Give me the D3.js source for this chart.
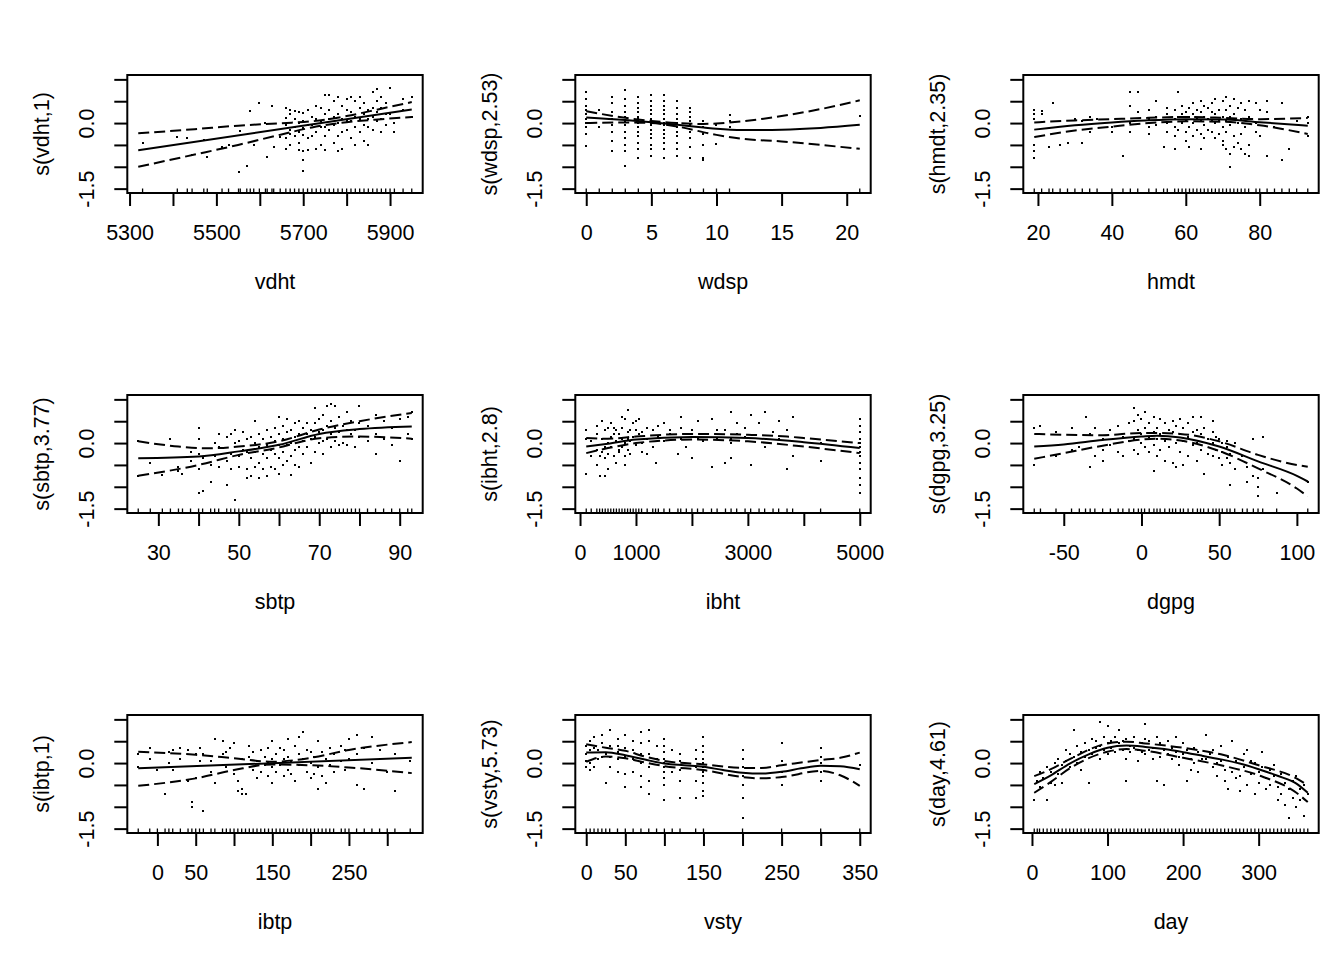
<html>
<script src='https://d3js.org/d3.v7.min.js'></script>
<style>
  body {margin: 0; background: #fff;}
  text {font-family: "Liberation Sans", Arial, sans-serif; font-size: 21.5px; fill: #000;}
</style>
<body>
<svg width=1344 height=960></svg>
<script>
// y axis shared by every panel
var yLim = [-1.5, 1.0];
var yTicks = [-1.5, -1, -0.5, 0, 0.5, 1];
var yLabels = [-1.5, 0];

// ---- vdht ----
var vdhtRange = [5320, 5950];
var vdhtTicks = [5300, 5400, 5500, 5600, 5700, 5800, 5900];
var vdhtLabels = [5300, 5500, 5700, 5900];
var vdhtFit = [[5320, -0.62], [5950, 0.31]];
var vdhtUp = [[5320, -0.235], [5450, -0.14], [5550, -0.06], [5650, -0.003], [5720, 0.04], [5800, 0.16], [5880, 0.33], [5950, 0.48]];
var vdhtLo = [[5320, -1.0], [5450, -0.72], [5550, -0.5], [5650, -0.26], [5720, -0.1], [5800, 0.02], [5880, 0.09], [5950, 0.14]];
var vdhtPts = [[5330, [-0.45]], [5410, [-0.31]], [5433, [-0.35]], [5444, [-0.73]], [5471, [-0.38]], [5479, [-0.78]], [5513, [-0.55]],
  [5528, [-0.5]], [5551, [-1.12]], [5555, [-0.19]], [5570, [-0.98]], [5578, [0.27]], [5586, [-0.5]], [5599, [0.46]],
  [5613, [0.0]], [5617, [-0.77]], [5628, [0.38]], [5632, [-0.55]], [5647, [-0.31]],
  [5660, [0.35, 0.12, -0.05, -0.35, -0.6]], [5670, [0.3, 0.2, -0.15, -0.25, -0.5]], [5680, [0.28, 0.1, -0.1, -0.3]],
  [5690, [0.25, 0.0, -0.2, -0.45, -0.62]], [5700, [0.22, 0.05, -0.12, -0.28, -0.65, -0.85, -1.1]], [5710, [0.3, -0.05, -0.35, -0.62]],
  [5720, [0.15, -0.05, -0.3]], [5730, [0.4, 0.1, -0.2, -0.6]], [5740, [0.35, 0.05, -0.1, -0.5]], [5750, [0.65, 0.2, -0.1, -0.3, -0.62]],
  [5760, [0.65, 0.3, 0.1, -0.15]], [5770, [0.5, 0.15, -0.05, -0.45]], [5780, [0.6, 0.2, 0.0, -0.3, -0.65]], [5790, [0.4, 0.1, -0.2, -0.6]],
  [5800, [0.55, 0.3, 0.05, -0.15]], [5810, [0.6, 0.25, 0.05, -0.35]], [5820, [0.5, 0.15, -0.1, -0.5]], [5830, [0.6, 0.35, 0.1, -0.2]],
  [5840, [0.45, 0.2, -0.05, -0.4]], [5850, [0.3, 0.1, -0.1, -0.5]], [5860, [0.7, 0.35, 0.15, -0.15]], [5870, [0.78, 0.5, 0.25, 0.05]],
  [5880, [0.6, 0.35, 0.1, -0.2]], [5890, [0.45, 0.2, -0.05]], [5900, [0.8, 0.2]], [5910, [0.0, -0.2]], [5930, [0.55, 0.3]], [5950, [0.6, 0.15]]];

// ---- wdsp ----
var wdspRange = [0, 21];
var wdspTicks = [0, 5, 10, 15, 20];
var wdspLabels = [0, 5, 10, 15, 20];
var wdspFit = [[0, 0.13], [3, 0.07], [5, 0.02], [7, -0.04], [9, -0.1], [10, -0.13], [12, -0.16], [15, -0.15], [18, -0.11], [21, -0.04]];
var wdspUp = [[0, 0.27], [3, 0.12], [5, 0.05], [7, 0.0], [9, -0.02], [10, -0.01], [12, 0.04], [15, 0.16], [18, 0.32], [21, 0.52]];
var wdspLo = [[0, 0.0], [3, 0.015], [5, 0.0], [7, -0.08], [10, -0.27], [12, -0.36], [15, -0.42], [18, -0.5], [21, -0.59]];
var wdspPts = [[0, [0.72, 0.55, 0.4, 0.3, 0.2, 0.1, 0.0, -0.1, -0.25, -0.52]], [1, [0.3, -0.1]],
  [2, [0.6, 0.45, 0.25, 0.1, -0.05, -0.2, -0.4, -0.65]],
  [3, [0.75, 0.55, 0.4, 0.25, 0.15, 0.05, -0.05, -0.2, -0.35, -0.5, -0.65, -0.98]],
  [4, [0.6, 0.45, 0.35, 0.25, 0.15, 0.1, 0.05, 0.0, -0.1, -0.2, -0.3, -0.45, -0.6, -0.8]],
  [5, [0.65, 0.5, 0.4, 0.3, 0.2, 0.1, 0.05, 0.0, -0.05, -0.15, -0.25, -0.35, -0.5, -0.6, -0.75]],
  [6, [0.65, 0.5, 0.4, 0.3, 0.2, 0.1, 0.0, -0.05, -0.15, -0.25, -0.35, -0.45, -0.6, -0.8]],
  [7, [0.5, 0.35, 0.2, 0.1, 0.0, -0.1, -0.2, -0.3, -0.45, -0.6, -0.75]],
  [8, [0.35, 0.25, 0.15, 0.05, -0.05, -0.2, -0.35, -0.55, -0.79]],
  [9, [0.04, -0.1, -0.25, -0.5, -0.8, -0.85]], [10, [-0.04, -0.48]], [11, [0.19, 0.05, -0.08]], [21, [0.17]]];

// ---- hmdt ----
var hmdtRange = [19, 93];
var hmdtTicks = [20, 40, 60, 80];
var hmdtLabels = [20, 40, 60, 80];
var hmdtFit = [[19, -0.15], [30, -0.05], [40, 0.015], [49, 0.06], [60, 0.09], [71, 0.08], [80, 0.02], [93, -0.06]];
var hmdtUp = [[19, 0.015], [30, 0.06], [40, 0.09], [50, 0.12], [60, 0.14], [70, 0.12], [80, 0.09], [93, 0.115]];
var hmdtLo = [[19, -0.32], [30, -0.17], [40, -0.08], [50, 0.0], [60, 0.04], [70, 0.03], [80, -0.05], [93, -0.25]];
var hmdtPts = [[19, [0.3, 0.2, 0.1, -0.5, -0.65, -0.8]], [21, [0.28, 0.2]], [23, [-0.55]], [24, [0.45]], [26, [-0.5]],
  [28, [-0.45]], [30, [0.1]], [32, [-0.45, 0.05]], [34, [0.15, -0.2]], [36, [0.1]], [40, [-0.2, -0.1]], [43, [-0.75]],
  [45, [0.7, 0.4, 0.0, -0.2]], [47, [0.72, 0.25]], [50, [0.3, 0.1, -0.1, -0.25]], [52, [0.5, 0.15, -0.05]], [54, [-0.55]],
  [55, [0.35, 0.2, 0.0, -0.2]], [57, [0.3, 0.1, -0.1, -0.3, -0.6]], [58, [0.7, 0.15, -0.15]], [59, [0.4, 0.2, 0.0]],
  [60, [0.25, 0.05, -0.2, -0.4]], [61, [0.35, 0.15, -0.1, -0.55]], [62, [0.45, 0.2, 0.0, -0.3]], [63, [0.3, 0.1, -0.15]],
  [64, [0.5, 0.25, 0.05, -0.25, -0.6]], [65, [0.4, 0.15, -0.05, -0.35]], [66, [0.35, 0.1, -0.15]], [67, [0.45, 0.25, 0.05, -0.2]],
  [68, [0.55, 0.2, 0.0, -0.35]], [69, [0.3, 0.05, -0.25]], [70, [0.5, 0.15, -0.1, -0.4, -0.5]], [71, [0.6, 0.3, 0.05, -0.2, -0.6]],
  [72, [0.4, 0.15, -0.05, -1.0, -0.7]], [73, [0.55, 0.2, -0.3, -0.55]], [74, [0.35, 0.0, -0.45]], [75, [0.45, 0.1, -0.25, -0.6]],
  [76, [0.3, -0.1, -0.7]], [77, [0.5, 0.15, -0.5, -0.75]], [79, [0.45, 0.0, -0.2]], [80, [-0.3, 0.3]], [82, [0.5, 0.25, -0.75]],
  [84, [-0.1]], [86, [0.45, -0.85]], [88, [-0.6]], [90, [0.05]], [93, [0.15, 0.0, -0.3]]];

// ---- sbtp ----
var sbtpRange = [25, 93];
var sbtpTicks = [30, 40, 50, 60, 70, 80, 90];
var sbtpLabels = [30, 50, 70, 90];
var sbtpFit = [[25, -0.35], [40, -0.31], [50, -0.19], [60, -0.04], [70, 0.21], [80, 0.32], [93, 0.38]];
var sbtpUp = [[25, 0.04], [35, -0.08], [42, -0.12], [50, -0.08], [60, 0.04], [70, 0.31], [80, 0.5], [93, 0.69]];
var sbtpLo = [[25, -0.75], [40, -0.5], [50, -0.27], [60, -0.1], [65, 0.02], [70, 0.11], [80, 0.15], [93, 0.1]];
var sbtpPts = [[25, [0.05, -0.75]], [28, [-0.45]], [31, [-0.72]], [33, [0.1]], [35, [-0.65, -0.55]], [36, [-0.7]], [38, [-0.4, -0.2]],
  [40, [0.35, 0.1, -0.25, -0.6, -1.15]], [41, [-0.35, -1.1]], [43, [-0.5, -0.9]], [44, [0.0, -0.3]], [45, [0.2, -0.1, -0.55]],
  [47, [0.15, -0.4, -0.95]], [48, [0.2, -0.25, -0.6]], [49, [0.3, 0.0, -1.3]], [50, [0.05, -0.3, -0.55]], [51, [0.25, -0.15]],
  [52, [0.1, -0.2, -0.8, -0.6]], [53, [0.15, -0.35, -0.75]], [54, [0.5, 0.0, -0.2, -0.55]], [55, [0.2, -0.1, -0.45, -0.8]],
  [56, [0.1, -0.25, -0.6]], [57, [0.3, -0.05, -0.35, -0.75]], [58, [0.15, -0.15, -0.55]], [59, [0.35, 0.05, -0.25, -0.6]],
  [60, [0.6, 0.2, -0.05, -0.35, -0.7]], [61, [0.4, 0.1, -0.2, -0.5]], [62, [0.55, 0.25, -0.05, -0.4]], [63, [0.3, 0.0, -0.3, -0.72]],
  [64, [0.45, 0.15, -0.15, -0.5]], [65, [0.5, 0.2, -0.1, -0.55]], [66, [0.35, 0.05, -0.25]], [67, [0.45, 0.2, -0.1]],
  [68, [0.3, 0.1, -0.45]], [69, [0.8, 0.45, 0.15, -0.2]], [70, [0.55, 0.25, 0.0]], [71, [0.65, 0.3, 0.05, -0.25]],
  [72, [0.85, 0.4, 0.1]], [73, [0.9, 0.5, 0.2, -0.1]], [74, [0.85, 0.35, 0.05]], [75, [0.6, 0.25, -0.05]], [76, [0.4, 0.0]],
  [77, [0.7, 0.3, -0.05]], [78, [0.5, 0.2]], [79, [0.3, -0.1]], [80, [0.85, 0.45, 0.15]], [82, [0.4, 0.05]],
  [84, [0.65, 0.2, -0.25]], [86, [0.5, 0.1]], [88, [0.35, -0.05]], [90, [0.55, -0.4]], [92, [0.6, 0.2]], [93, [0.7, 0.1]]];

// ---- ibht ----
var ibhtRange = [111, 5000];
var ibhtTicks = [0, 1000, 2000, 3000, 4000, 5000];
var ibhtLabels = [0, 1000, 3000, 5000];
var ibhtFit = [[111, -0.08], [500, -0.015], [1000, 0.08], [2000, 0.14], [3000, 0.115], [4000, 0.02], [5000, -0.115]];
var ibhtUp = [[111, 0.115], [500, 0.1], [1000, 0.15], [2000, 0.21], [3000, 0.19], [3700, 0.15], [4000, 0.115], [5000, 0.0]];
var ibhtLo = [[111, -0.23], [500, -0.115], [1000, 0.0], [2000, 0.08], [3000, 0.04], [4000, -0.08], [5000, -0.23]];
var ibhtPts = [[111, [0.3, 0.1, -0.7]], [200, [-0.3, 0.05]], [300, [0.4, 0.2, -0.5, -0.15]], [350, [-0.75, -0.3]],
  [400, [0.5, 0.1, -0.2]], [450, [0.3, -0.1, -0.35, -0.75]], [500, [0.35, 0.0, -0.25, -0.6]], [550, [0.45, 0.15, -0.1]],
  [600, [0.35, 0.2, -0.3]], [650, [0.3, 0.05, -0.45]], [700, [0.2, -0.15, -0.2]], [750, [0.6, 0.35, 0.1, -0.1]],
  [800, [0.55, 0.0, -0.3, -0.5]], [850, [0.75, 0.25, 0.1, -0.15]], [900, [0.3, 0.05, -0.25]], [950, [0.45, 0.15]],
  [1000, [0.5, 0.3, -0.05]], [1050, [0.55, 0.2]], [1100, [0.25, 0.0, -0.2]], [1200, [0.35, 0.1, -0.25]], [1300, [0.3, -0.1]],
  [1350, [-0.45]], [1400, [0.4, 0.15]], [1500, [0.45, 0.05]], [1600, [0.3, 0.2]], [1750, [-0.25]], [1800, [0.6, 0.35, 0.1]],
  [1900, [0.2, -0.1]], [2000, [0.3, -0.35]], [2100, [0.5, 0.1]], [2200, [0.05]], [2350, [0.55, -0.55]], [2450, [0.1, 0.3]],
  [2600, [0.3, -0.45]], [2700, [0.7, 0.1, 0.0, -0.35]], [2800, [0.45, 0.2]], [2950, [0.35, 0.15]], [3050, [0.65, -0.5]],
  [3200, [0.45]], [3300, [0.7, -0.1]], [3450, [0.25]], [3550, [0.5, 0.1]], [3700, [0.3, -0.6]], [3800, [0.6, -0.3]],
  [4300, [0.0, -0.4]], [5000, [0.55, 0.4, 0.25, 0.1, 0.0, -0.1, -0.2, -0.3, -0.45, -0.6, -0.8, -0.95, -1.15]]];

// ---- dgpg ----
var dgpgRange = [-69, 107];
var dgpgTicks = [-50, 0, 50, 100];
var dgpgLabels = [-50, 0, 50, 100];
var dgpgFit = [[-69, -0.08], [-50, -0.03], [-25, 0.07], [0, 0.15], [10, 0.17], [25, 0.13], [50, -0.08], [75, -0.42], [100, -0.75], [107, -0.88]];
var dgpgUp = [[-69, 0.21], [-50, 0.19], [-25, 0.18], [0, 0.23], [10, 0.23], [25, 0.21], [50, 0.04], [75, -0.27], [100, -0.5], [107, -0.54]];
var dgpgLo = [[-69, -0.36], [-50, -0.23], [-25, -0.06], [0, 0.08], [10, 0.1], [25, 0.06], [50, -0.18], [75, -0.58], [100, -1.04], [107, -1.22]];
var dgpgPts = [[-69, [0.35, -0.5]], [-65, [0.4]], [-55, [0.25, -0.3]], [-45, [0.35, -0.15]], [-40, [-0.1]], [-36, [0.6]],
  [-33, [0.2, -0.55]], [-30, [0.35, -0.3]], [-25, [0.1, -0.15, -0.4]], [-20, [0.3, -0.05]], [-15, [0.4, -0.2]], [-12, [0.15, -0.3]],
  [-8, [0.45, 0.05]], [-5, [0.8, 0.5, 0.1, -0.15]], [-2, [0.65, 0.3, -0.25]], [0, [0.55, 0.2, 0.0]], [2, [0.7, 0.35, -0.1]],
  [5, [0.45, 0.15, -0.2]], [8, [0.6, 0.25, -0.05, -0.65]], [10, [0.35, 0.1, -0.3]], [12, [0.55, 0.2, -0.15]], [15, [0.45, 0.05, -0.4]],
  [18, [0.3, -0.1]], [20, [0.5, 0.25, -0.45]], [22, [0.4, 0.0, -0.55]], [25, [0.55, 0.2, -0.2]], [27, [0.35, 0.05, -0.5]],
  [30, [0.45, 0.15, -0.3]], [33, [0.6, 0.25, -0.05]], [36, [0.3, 0.0, -0.4]], [38, [0.6, 0.2, -0.15]], [40, [0.35, -0.7]],
  [43, [0.1, -0.25]], [46, [0.5, 0.25, 0.0, -0.3]], [48, [0.15, -0.15]], [50, [0.1, -0.35]], [52, [0.0, -0.2, -0.5]],
  [55, [0.05, -0.1, -0.35]], [57, [-0.25, -0.45, -0.95]], [60, [0.0, -0.6]], [65, [-0.3]], [68, [-0.55, -0.9]], [72, [0.1, -0.75]],
  [75, [-0.8, -1.2, -1.0]], [78, [0.15, -0.6]], [87, [-1.15]], [107, [-0.9]]];

// ---- ibtp ----
var ibtpRange = [-25, 332];
var ibtpTicks = [0, 50, 100, 150, 200, 250, 300];
var ibtpLabels = [0, 50, 150, 250];
var ibtpFit = [[-25, -0.12], [332, 0.12]];
var ibtpUp = [[-25, 0.26], [50, 0.19], [100, 0.11], [150, 0.03], [200, 0.12], [250, 0.3], [332, 0.48]];
var ibtpLo = [[-25, -0.52], [50, -0.35], [100, -0.16], [150, -0.03], [200, -0.05], [250, -0.1], [332, -0.23]];
var ibtpPts = [[-25, [0.2, -0.1]], [-10, [0.35, 0.1]], [0, [-0.15]], [10, [-0.7]], [15, [0.25, 0.0]], [20, [0.3, -0.15]],
  [30, [0.35, 0.1]], [40, [0.3, -0.4]], [45, [-1.0, -0.9]], [50, [0.2, -0.35]], [55, [0.35, 0.05]], [60, [-1.1, 0.2]],
  [70, [0.05, -0.2]], [75, [0.55, -0.45]], [85, [0.5, 0.2]], [90, [0.25, -0.1]], [95, [0.35]], [100, [0.45, -0.25]],
  [105, [-0.4, -0.65]], [110, [0.1, -0.6, -0.7]], [115, [-0.7]], [120, [0.4, 0.15]], [125, [0.25, -0.15]], [130, [0.05, -0.35]],
  [135, [0.3, -0.2]], [140, [0.15, -0.05]], [145, [0.35, 0.0, -0.3]], [150, [0.5, 0.1, -0.1, -0.45]], [155, [0.2, -0.2]],
  [160, [0.35, -0.05]], [165, [0.3, 0.1, -0.3]], [170, [0.55, 0.15, -0.15]], [175, [0.05, -0.25]], [180, [0.4, -0.4]],
  [185, [0.6, 0.2, -0.05]], [190, [0.7, 0.1]], [195, [0.3, -0.2]], [200, [0.25, 0.0, -0.35]], [205, [0.15, -0.25]],
  [210, [0.5, -0.6, -0.1]], [215, [0.25, -0.3]], [220, [0.1, -0.45]], [225, [0.35, -0.05]], [230, [0.2, -0.2]],
  [240, [0.4, 0.05]], [245, [0.3, -0.15]], [250, [0.55, 0.1]], [260, [0.65, 0.2, -0.5]], [270, [0.35, -0.6]],
  [280, [0.6, 0.0]], [290, [0.3]], [300, [-0.2]], [310, [-0.65, 0.2]], [330, [0.05]]];

// ---- vsty ----
var vstyRange = [0, 350];
var vstyTicks = [0, 50, 100, 150, 200, 250, 300, 350];
var vstyLabels = [0, 50, 150, 250, 350];
var vstyFit = [[0, 0.24], [25, 0.25], [50, 0.18], [75, 0.08], [100, -0.01], [125, -0.05], [150, -0.085], [175, -0.16],
  [200, -0.22], [225, -0.24], [250, -0.2], [275, -0.12], [300, -0.06], [325, -0.07], [350, -0.14]];
var vstyUp = [[0, 0.43], [25, 0.35], [50, 0.28], [75, 0.15], [100, 0.05], [150, -0.03], [200, -0.11], [225, -0.11],
  [250, -0.05], [300, 0.07], [325, 0.12], [350, 0.24]];
var vstyLo = [[0, 0.03], [25, 0.15], [50, 0.11], [75, 0.015], [100, -0.07], [150, -0.16], [200, -0.32], [225, -0.35],
  [250, -0.32], [300, -0.18], [325, -0.28], [350, -0.52]];
var vstyPts = [[0, [0.4, 0.2, 0.05, -0.1]], [5, [0.5, 0.3, 0.0, -0.15]], [10, [0.6, 0.35, -0.1]], [15, [0.3, 0.1]],
  [20, [0.65, 0.45, 0.15]], [25, [-0.45, 0.2]], [30, [0.75, 0.4, 0.15, -0.1]], [40, [0.55, 0.4, 0.25, 0.1, -0.2]],
  [50, [0.65, 0.35, 0.15, -0.25, -0.55]], [60, [0.5, 0.3, 0.1, -0.2]], [70, [0.7, 0.45, 0.2, 0.0, -0.3, -0.55]],
  [80, [0.75, 0.5, 0.2, -0.1, -0.4, -0.7]], [90, [0.4, 0.1]],
  [100, [0.55, 0.4, 0.25, 0.1, 0.0, -0.1, -0.2, -0.35, -0.5, -0.85]], [110, [0.3, -0.2]],
  [120, [0.2, 0.05, -0.15, -0.4, -0.8]], [140, [0.3, 0.1, -0.1, -0.4, -0.8]],
  [150, [0.6, 0.4, 0.25, 0.1, 0.0, -0.1, -0.2, -0.3, -0.45, -0.65, -0.75]],
  [200, [0.3, 0.1, -0.1, -0.3, -0.5, -0.8, -1.25]], [250, [0.45, 0.05, -0.2, -0.5]],
  [300, [0.35, 0.15, 0.0, -0.2, -0.4]], [350, [-0.05]]];

// ---- day ----
var dayRange = [3, 365];
var dayTicks = [0, 100, 200, 300];
var dayLabels = [0, 100, 200, 300];
var dayFit = [[3, -0.48], [25, -0.28], [50, -0.01], [75, 0.2], [100, 0.35], [125, 0.4], [150, 0.37], [175, 0.32], [200, 0.25],
  [225, 0.17], [250, 0.085], [275, -0.01], [300, -0.14], [325, -0.29], [350, -0.47], [365, -0.68]];
var dayUp = [[3, -0.3], [25, -0.14], [50, 0.09], [100, 0.45], [125, 0.49], [150, 0.45], [200, 0.35], [250, 0.2], [300, -0.05],
  [350, -0.35], [365, -0.51]];
var dayLo = [[3, -0.68], [25, -0.43], [50, -0.12], [100, 0.26], [125, 0.32], [150, 0.28], [200, 0.12], [250, -0.05], [300, -0.28],
  [350, -0.68], [365, -0.89]];
var dayPts = [[3, [-0.85]], [7, [-0.4]], [10, [-0.2, -0.55]], [15, [-0.35]], [20, [-0.1, -0.85]], [25, [-0.2, -0.45]], [30, [0.0, -0.5]],
  [35, [0.1, -0.25]], [40, [-0.05, -0.45]], [45, [0.3, 0.05]], [50, [0.2, -0.1]], [55, [0.75, 0.15]], [60, [0.4, 0.0]],
  [65, [0.25, -0.15]], [70, [0.45, 0.15]], [75, [0.3, -0.45]], [80, [0.55, 0.2]], [85, [0.5, 0.35]], [90, [0.95, 0.4, 0.1]],
  [95, [0.6, 0.3]], [100, [0.85, 0.45, 0.2]], [105, [0.5, 0.35]], [110, [0.6, 0.25]], [115, [0.75, 0.45]], [120, [0.5, 0.3]],
  [125, [0.55, 0.1, -0.4]], [130, [0.4, 0.25]], [135, [0.6, 0.35]], [140, [0.3, 0.05]], [145, [0.45, 0.25]],
  [150, [0.9, 0.55, 0.2]], [155, [0.5, 0.3]], [160, [0.35, 0.1]], [165, [0.6, -0.4]], [170, [0.45, 0.15]], [175, [0.3, -0.5]],
  [180, [0.5, 0.2]], [185, [0.35, 0.1]], [190, [0.6, 0.25]], [195, [0.15, -0.05]], [200, [0.45, 0.2]], [205, [0.3, -0.4]],
  [210, [0.1, -0.15]], [215, [0.35, 0.0]], [220, [0.25, -0.2]], [225, [0.1]], [230, [0.65, 0.1]], [235, [0.2]],
  [240, [0.3, -0.1]], [245, [0.0, -0.3]], [250, [0.4, 0.05]], [255, [-0.15, -0.4]], [260, [0.15, -0.6]], [265, [0.5, -0.2]],
  [270, [0.05, -0.35]], [275, [-0.65, -0.3]], [280, [0.2, -0.1]], [285, [0.3, -0.5]], [290, [0.05, -0.25]], [295, [-0.7, 0.0]],
  [300, [-0.2, -0.45]], [305, [0.25, -0.1]], [310, [-0.35, -0.6]], [315, [-0.15, -0.5]], [320, [-0.3, -0.05]],
  [325, [-0.55, -0.85]], [330, [-0.25, -0.7]], [335, [-0.95, -0.45]], [340, [-0.6, -1.25]], [345, [-0.4, -0.8]],
  [350, [-1.0, -0.3]], [355, [-0.6, -0.85]], [360, [-1.2, -0.5]], [365, [-0.7]]];

var panels = [
  {name: "vdht", ylab: "s(vdht,1)", range: vdhtRange, ticks: vdhtTicks, labels: vdhtLabels, fit: vdhtFit, up: vdhtUp, lo: vdhtLo, pts: vdhtPts},
  {name: "wdsp", ylab: "s(wdsp,2.53)", range: wdspRange, ticks: wdspTicks, labels: wdspLabels, fit: wdspFit, up: wdspUp, lo: wdspLo, pts: wdspPts},
  {name: "hmdt", ylab: "s(hmdt,2.35)", range: hmdtRange, ticks: hmdtTicks, labels: hmdtLabels, fit: hmdtFit, up: hmdtUp, lo: hmdtLo, pts: hmdtPts},
  {name: "sbtp", ylab: "s(sbtp,3.77)", range: sbtpRange, ticks: sbtpTicks, labels: sbtpLabels, fit: sbtpFit, up: sbtpUp, lo: sbtpLo, pts: sbtpPts},
  {name: "ibht", ylab: "s(ibht,2.8)", range: ibhtRange, ticks: ibhtTicks, labels: ibhtLabels, fit: ibhtFit, up: ibhtUp, lo: ibhtLo, pts: ibhtPts},
  {name: "dgpg", ylab: "s(dgpg,3.25)", range: dgpgRange, ticks: dgpgTicks, labels: dgpgLabels, fit: dgpgFit, up: dgpgUp, lo: dgpgLo, pts: dgpgPts},
  {name: "ibtp", ylab: "s(ibtp,1)", range: ibtpRange, ticks: ibtpTicks, labels: ibtpLabels, fit: ibtpFit, up: ibtpUp, lo: ibtpLo, pts: ibtpPts},
  {name: "vsty", ylab: "s(vsty,5.73)", range: vstyRange, ticks: vstyTicks, labels: vstyLabels, fit: vstyFit, up: vstyUp, lo: vstyLo, pts: vstyPts},
  {name: "day", ylab: "s(day,4.61)", range: dayRange, ticks: dayTicks, labels: dayLabels, fit: dayFit, up: dayUp, lo: dayLo, pts: dayPts}
];

var svg = d3.select("svg");
var W = 295.4, H = 118;

panels.forEach(function(p, i) {
  var row = Math.floor(i / 3), col = i % 3;
  var left = 127.3 + 448 * col, top = 75 + 320 * row;
  // R style 4% padding on both axes
  var span = p.range[1] - p.range[0];
  var x = d3.scaleLinear().domain([p.range[0] - 0.04 * span, p.range[1] + 0.04 * span]).range([0, W]);
  var ySpan = yLim[1] - yLim[0];
  var y = d3.scaleLinear().domain([yLim[0] - 0.04 * ySpan, yLim[1] + 0.04 * ySpan]).range([H, 0]);
  var g = svg.append("g").attr("transform", "translate(" + left + "," + top + ")");

  var pts = [];
  p.pts.forEach(function(d) { d[1].forEach(function(v) { pts.push([d[0], v]); }); });

  // partial residuals, drawn as pixel dots
  g.selectAll("rect.pt").data(pts).enter().append("rect")
    .attr("class", "pt")
    .attr("x", function(d) { return Math.round(left + x(d[0])) - left - 1; })
    .attr("y", function(d) { return Math.round(top + y(d[1])) - top - 1; })
    .attr("width", 2).attr("height", 2)
    .attr("shape-rendering", "crispEdges")
    .attr("fill", "#000");

  // rug
  var rugX = Array.from(new Set(pts.map(function(d) { return d[0]; })));
  g.selectAll("line.rug").data(rugX).enter().append("line")
    .attr("class", "rug")
    .attr("x1", function(d) { return x(d); }).attr("x2", function(d) { return x(d); })
    .attr("y1", H).attr("y2", H - 4.5)
    .attr("stroke", "#000").attr("stroke-width", 1.3);

  var line = d3.line().x(function(d) { return x(d[0]); }).y(function(d) { return y(d[1]); }).curve(d3.curveMonotoneX);
  g.append("path").attr("d", line(p.fit))
    .attr("fill", "none").attr("stroke", "#000").attr("stroke-width", 2);
  [p.up, p.lo].forEach(function(b) {
    g.append("path").attr("d", line(b))
      .attr("fill", "none").attr("stroke", "#000").attr("stroke-width", 2)
      .attr("stroke-dasharray", "11,5");
  });

  g.append("rect").attr("width", W).attr("height", H)
    .attr("fill", "none").attr("stroke", "#000").attr("stroke-width", 2);

  // x axis
  var xa = d3.axisBottom(x).tickValues(p.ticks)
    .tickFormat(function(d) { return p.labels.indexOf(d) >= 0 ? String(d) : ""; })
    .tickSize(13).tickSizeOuter(0);
  var gx = g.append("g").attr("transform", "translate(0," + H + ")").call(xa)
    .attr("font-size", null).attr("font-family", null);
  gx.select(".domain").remove();
  gx.selectAll("line").attr("stroke-width", 2);
  gx.selectAll("text").attr("y", 46.5).attr("dy", null);

  // y axis
  var ya = d3.axisLeft(y).tickValues(yTicks)
    .tickFormat(function(d) { return yLabels.indexOf(d) >= 0 ? d.toFixed(1) : ""; })
    .tickSize(13).tickSizeOuter(0);
  var gy = g.append("g").call(ya).attr("font-size", null).attr("font-family", null);
  gy.select(".domain").remove();
  gy.selectAll("line").attr("stroke-width", 2);
  gy.selectAll("text").attr("x", null).attr("dy", null)
    .attr("text-anchor", "middle")
    .attr("transform", "translate(-33,0) rotate(-90)");

  // titles
  g.append("text").attr("x", W / 2).attr("y", H + 96)
    .attr("text-anchor", "middle").text(p.name);
  g.append("text").attr("transform", "translate(-78," + (H / 2) + ") rotate(-90)")
    .attr("text-anchor", "middle").text(p.ylab);
});
</script>
</body>
</html>
